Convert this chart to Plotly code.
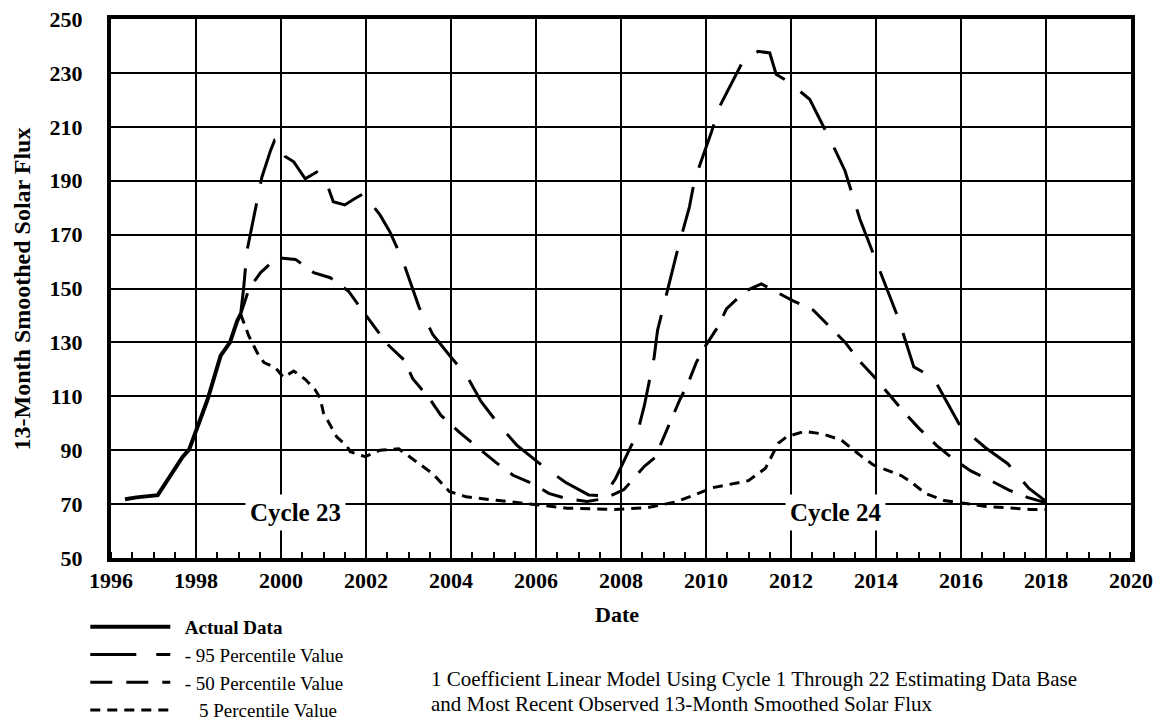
import plotly.graph_objects as go

# ---------------- data ----------------
actual_year = [1996.33, 1996.6, 1997.1, 1997.25, 1997.48, 1997.68, 1997.84, 1998.03,
               1998.27, 1998.58, 1998.8, 1998.97, 1999.05]
actual_flux = [71.8, 72.5, 73.3, 77.0, 82.6, 87.4, 90.3, 98.0,
               108.7, 125.1, 130.0, 138.0, 140.5]

p95_year = [1999.05, 1999.12, 1999.2, 1999.32, 1999.55, 1999.75, 1999.85, 2000.0, 2000.1,
            2000.3, 2000.57, 2000.84, 2001.04, 2001.23, 2001.5, 2001.74, 2001.94, 2002.33,
            2002.56, 2002.85, 2003.25, 2003.57, 2004.0, 2004.36, 2004.71, 2005.1, 2005.54,
            2006.17, 2006.7, 2007.24, 2007.6, 2007.87, 2008.39, 2008.55, 2008.78, 2008.86,
            2009.14, 2009.3, 2009.61, 2009.73, 2010.13, 2010.32, 2010.88, 2011.23, 2011.5,
            2011.65, 2011.93, 2012.44, 2012.95, 2013.27, 2013.62, 2013.86, 2014.29, 2014.53,
            2014.89, 2015.35, 2015.98, 2016.57, 2017.1, 2017.6, 2018.0]
p95_flux = [140.5, 150.0, 164.0, 173.6, 191.3, 201.0, 205.0, 204.0, 199.0,
            197.0, 190.7, 193.2, 190.7, 182.2, 181.0, 183.4, 185.2, 177.3,
            171.1, 161.0, 143.0, 133.0, 124.5, 117.9, 108.0, 100.0, 92.0,
            84.0, 78.0, 73.4, 73.0, 79.4, 96.6, 106.6, 124.5, 134.5,
            152.4, 162.4, 180.3, 190.2, 208.2, 217.5, 234.7, 238.0, 237.4,
            229.5, 226.8, 220.2, 204.3, 193.7, 175.8, 165.9, 148.7, 138.7,
            120.9, 116.9, 99.0, 91.0, 85.0, 75.8, 71.0]

p50_year = [1999.05, 1999.25, 1999.52, 1999.9, 2000.34, 2000.77, 2001.16, 2001.59, 2002.0,
            2002.5, 2002.9, 2003.1, 2003.5, 2003.76, 2004.2, 2004.6, 2005.07, 2005.46,
            2005.94, 2006.3, 2006.73, 2007.2, 2007.6, 2008.07, 2008.55, 2008.8, 2009.0,
            2009.18, 2009.38, 2009.57, 2009.77, 2010.0, 2010.28, 2010.48, 2010.92, 2011.3,
            2011.7, 2012.05, 2012.52, 2012.91, 2013.27, 2013.62, 2013.94, 2014.33, 2014.69,
            2015.0, 2015.43, 2015.79, 2016.22, 2016.65, 2017.13, 2017.56, 2018.0]
p50_flux = [140.5, 150.0, 155.9, 161.4, 160.8, 155.9, 154.0, 149.0, 140.0,
            129.4, 123.4, 116.5, 109.0, 103.0, 96.6, 91.3, 85.3, 80.7,
            77.4, 74.0, 72.0, 71.0, 72.0, 75.4, 84.0, 87.3, 94.6,
            100.6, 108.6, 114.5, 122.5, 129.0, 135.8, 142.4, 149.0, 151.7,
            148.4, 145.4, 142.0, 136.0, 130.1, 122.9, 117.5, 110.3, 103.6,
            98.3, 91.7, 87.1, 82.4, 79.1, 75.2, 72.5, 70.5]

p5_year = [1999.05, 1999.24, 1999.44, 1999.6, 1999.87, 2000.06, 2000.3, 2000.57, 2000.8,
           2000.92, 2001.0, 2001.31, 2001.55, 2001.63, 2001.98, 2002.33, 2002.77, 2003.17,
           2003.57, 2003.96, 2004.36, 2005.07, 2005.94, 2006.73, 2007.83, 2008.62, 2009.26,
           2009.73, 2010.13, 2011.0, 2011.4, 2011.7, 2011.9, 2012.32, 2012.76, 2013.19,
           2013.66, 2013.94, 2014.6, 2014.8, 2015.16, 2015.6, 2016.22, 2016.54, 2017.64, 2018.0]
p5_flux = [140.5, 132.5, 126.2, 122.5, 120.6, 117.0, 119.4, 116.3, 112.5,
           109.4, 103.8, 95.0, 91.5, 89.4, 87.6, 90.0, 90.5, 86.0,
           81.3, 74.7, 72.7, 71.4, 70.0, 68.5, 68.0, 68.7, 70.7,
           73.4, 76.0, 78.7, 83.3, 92.6, 95.0, 97.0, 96.0, 93.7,
           87.7, 84.5, 80.5, 78.5, 74.0, 71.3, 70.0, 69.2, 68.0, 68.0]

x_ticks = list(range(1996, 2021, 2))
y_ticks = list(range(50, 251, 20))
cycle_labels = ["Cycle 23", "Cycle 24"]
cycle_x = [2000.35, 2013.05]
cycle_y = [67.0, 67.0]
note_lines = ["1 Coefficient Linear Model Using Cycle 1 Through 22 Estimating Data Base",
              "and Most Recent Observed 13-Month Smoothed Solar Flux"]

SERIF = "Liberation Serif"
NB = "\u00a0"

fig = go.Figure()
fig.add_trace(go.Scatter(x=actual_year, y=actual_flux, mode="lines",
                         name=NB * 2 + "<b>Actual Data</b>",
                         line=dict(color="black", width=4)))
fig.add_trace(go.Scatter(x=p95_year, y=p95_flux, mode="lines",
                         name=NB * 2 + "- 95 Percentile Value",
                         line=dict(color="black", width=3, dash="46px,20px")))
fig.add_trace(go.Scatter(x=p50_year, y=p50_flux, mode="lines",
                         name=NB * 2 + "- 50 Percentile Value",
                         line=dict(color="black", width=3, dash="22px,14px")))
fig.add_trace(go.Scatter(x=p5_year, y=p5_flux, mode="lines",
                         name=NB * 5 + "5 Percentile Value",
                         line=dict(color="black", width=3, dash="10px,7px")))

for lab, cx, cy in zip(cycle_labels, cycle_x, cycle_y):
    fig.add_annotation(x=cx, y=cy, xref="x", yref="y", text=lab, showarrow=False,
                       bgcolor="white", borderpad=4,
                       font=dict(family=SERIF, size=25, color="black", weight="bold"))

fig.add_annotation(x=-0.0873, y=0.5, xref="paper", yref="paper", xanchor="center",
                   yanchor="middle",
                   text="13-Month Smoothed Solar Flux", textangle=-90, showarrow=False,
                   font=dict(family=SERIF, size=24, color="black", weight="bold"))
fig.add_annotation(x=0.496, y=-0.104, xref="paper", yref="paper", text="Date",
                   showarrow=False, xanchor="center", yanchor="middle",
                   font=dict(family=SERIF, size=22, color="black", weight="bold"))
for line_text, ly in zip(note_lines, [-0.2245, -0.2709]):
    fig.add_annotation(x=0.312, y=ly, xref="paper", yref="paper", xanchor="left",
                       yanchor="middle", align="left", showarrow=False, text=line_text,
                       font=dict(family=SERIF, size=21, color="black"))

fig.update_layout(
    width=1157, height=721,
    margin=dict(l=111, r=26, t=19, b=163, autoexpand=False),
    paper_bgcolor="white", plot_bgcolor="white",
    showlegend=True,
    legend=dict(x=-0.0252, y=-0.0928, xanchor="left", yanchor="top",
                font=dict(family=SERIF, size=19, color="black"),
                itemwidth=80, bgcolor="rgba(0,0,0,0)", tracegroupgap=0),
    xaxis=dict(range=[1996, 2020], tickvals=x_ticks, ticktext=[str(v) for v in x_ticks],
               showgrid=True, gridcolor="black", gridwidth=2,
               showline=True, linecolor="black", linewidth=4, mirror=True,
               ticks="", ticklabelstandoff=0, zeroline=False,
               tickfont=dict(family=SERIF, size=22, color="black", weight="bold"),
               minor=dict(dtick=0.5, ticks="inside", ticklen=6, tickwidth=2,
                          tickcolor="black", showgrid=False)),
    yaxis=dict(range=[50, 250], tickvals=y_ticks,
               showgrid=True, gridcolor="black", gridwidth=2,
               showline=True, linecolor="black", linewidth=4, mirror=True,
               ticks="", ticklabelstandoff=20, zeroline=False,
               tickfont=dict(family=SERIF, size=22, color="black", weight="bold")),
)

fig.write_html("out.html",
               config={"displayModeBar": False},
               post_script="document.documentElement.style.margin='0';"
                           "document.body.style.margin='0';"
                           "document.body.style.overflow='hidden';")
